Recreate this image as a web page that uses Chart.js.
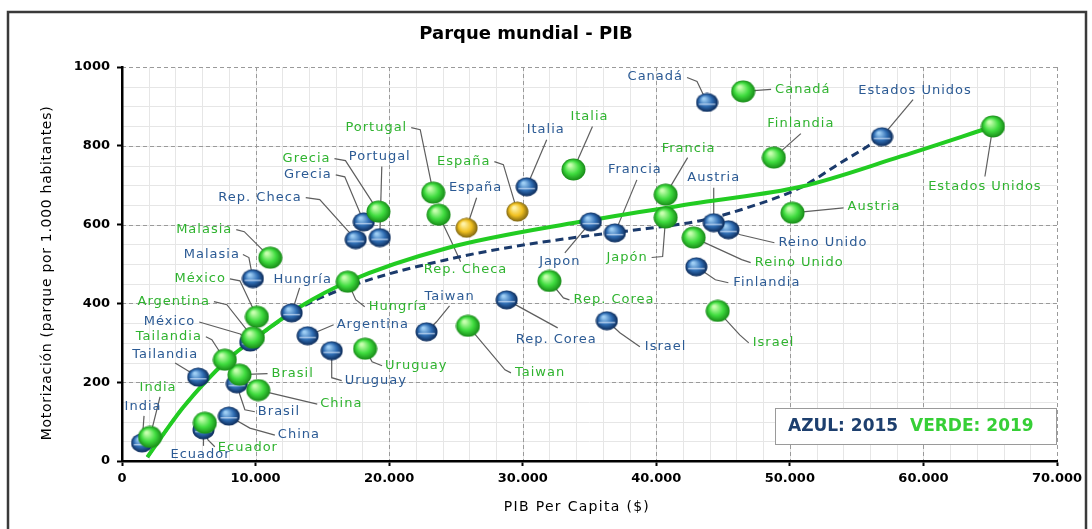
<!DOCTYPE html>
<html>
<head>
<meta charset="utf-8">
<script src="https://cdn.jsdelivr.net/npm/chart.js@4.4.1/dist/chart.umd.min.js"></script>
<style>
  html, body { margin: 0; padding: 0; background: #fff; }
  #wrap { width: 1092px; height: 529px; position: relative; }
</style>
</head>
<body>
<div id="wrap"><canvas id="chart"></canvas></div>
<script>
// country order is shared by both years
const countries = ['India', 'Ecuador', 'China', 'Brasil', 'Tailandia', 'México', 'Argentina', 'Malasia', 'Hungría', 'Uruguay',
  'Taiwan', 'Rep. Corea', 'Israel', 'Finlandia', 'Reino Unido', 'Austria', 'Estados Unidos', 'Canadá', 'Francia', 'Japón',
  'Italia', 'España', 'Portugal', 'Rep. Checa', 'Grecia'];
const names2015 = countries.map(c => c === 'Japón' ? 'Japon' : c);
const names2019 = countries;

const pib2015 = [1500, 6100, 8000, 8600, 5700, 9600, 13900, 9800, 12700, 15700,
  22800, 28800, 36300, 43000, 45400, 44300, 56900, 43800, 36900, 35100,
  30300, 25800, 19300, 17500, 18100];
const motor2015 = [46, 79, 114, 196, 213, 302, 318, 463, 376, 280,
  328, 409, 356, 493, 587, 605, 823, 910, 579, 607,
  696, 592, 567, 562, 607];

const pib2019 = [2100, 6200, 10200, 8800, 7700, 10100, 9800, 11100, 16900, 18200,
  25900, 32000, 44600, 48800, 42800, 50200, 65200, 46500, 40700, 40700,
  33800, 29600, 23300, 23700, 19200];
const motor2019 = [61, 97, 180, 219, 257, 366, 313, 516, 455, 285,
  343, 457, 381, 770, 567, 630, 849, 938, 676, 618,
  740, 633, 681, 625, 633];

// trend curves
const trendPib2019 = [1900, 4600, 7900, 10100, 13300, 16900, 24300, 34300, 43300, 50800, 58300, 65200];
const trendMotor2019 = [10, 137, 257, 315, 391, 455, 540, 607, 656, 696, 773, 849];
const trendPib2015 = [1900, 4600, 7900, 10100, 13300, 17800, 24300, 29300, 34300, 39300, 43300, 47000, 50800, 53800, 55800, 56900];
const trendMotor2015 = [10, 137, 257, 314, 388, 452, 511, 544, 569, 590, 610, 645, 694, 757, 798, 823];

const xTicks = [0, 10000, 20000, 30000, 40000, 50000, 60000, 70000];
const yTicks = [0, 200, 400, 600, 800, 1000];

// label placement: [dx, dy, align, leader points] relative to the ball, in px
const labelPos2015 = [
  [1, -36, 'c', [[2, -27]]],
  [-3, 25, 'c', [[0, 16]]],
  [49, 19, 'l', [[46, 19], [21, 12]]],
  [21, 28, 'l', [[18, 28], [8, 26], [3, 11]]],
  [-33, -22, 'c', [[-23, -14]]],
  [-55, -20, 'r', [[-51, -20], [-10, -8]]],
  [29, -11, 'l', [[26, -11]]],
  [-13, -24, 'r', [[-10, -24], [-4, -21]]],
  [11, -33, 'c', [[8, -25]]],
  [13, 30, 'l', [[10, 30], [0, 27]]],
  [23, -35, 'c', [[23, -26], [10, -10]]],
  [9, 40, 'l', [[51, 28]]],
  [38, 26, 'l', [[33, 26], [13, 12]]],
  [37, 16, 'l', [[32, 16], [19, 13]]],
  [50, 13, 'l', [[46, 13], [12, 5]]],
  [0, -45, 'c', [[0, -35]]],
  [33, -46, 'c', [[31, -37]]],
  [-24, -26, 'r', [[-20, -25], [-10, -21]]],
  [20, -63, 'c', [[22, -53]]],
  [-31, 40, 'c', [[-26, 31]]],
  [19, -57, 'c', [[20, -47]]],
  [9, -40, 'c', [[10, -30]]],
  [0, -81, 'c', [[2, -71]]],
  [-54, -42, 'r', [[-50, -42], [-36, -40]]],
  [-32, -47, 'r', [[-28, -47], [-19, -45]]]
];
const labelPos2019 = [
  [8, -49, 'c', [[10, -40]]],
  [13, 25, 'l', [[10, 24], [3, 17]]],
  [62, 14, 'l', [[59, 14]]],
  [32, -1, 'l', [[28, -1]]],
  [-23, -23, 'r', [[-19, -23], [-13, -20]]],
  [-31, -38, 'r', [[-27, -38], [-17, -36]]],
  [-43, -36, 'r', [[-39, -36], [-26, -33]]],
  [-38, -28, 'r', [[-34, -28], [-26, -26]]],
  [21, 25, 'l', [[17, 25], [8, 18]]],
  [20, 17, 'l', [[17, 17], [7, 13]]],
  [47, 47, 'l', [[43, 47], [37, 44]]],
  [24, 19, 'l', [[20, 19], [14, 17]]],
  [35, 32, 'l', [[31, 32], [22, 24]]],
  [27, -34, 'c', [[27, -24]]],
  [61, 25, 'l', [[57, 25], [48, 22]]],
  [55, -6, 'l', [[51, -5]]],
  [-8, 60, 'c', [[-8, 50]]],
  [32, -2, 'l', [[28, -2]]],
  [23, -46, 'c', [[22, -37]]],
  [-18, 40, 'r', [[-14, 40], [-3, 39]]],
  [16, -53, 'c', [[19, -43]]],
  [-27, -50, 'r', [[-23, -50], [-14, -47]]],
  [-26, -65, 'r', [[-22, -65], [-13, -63]]],
  [27, 55, 'c', [[22, 47], [12, 25]]],
  [-48, -53, 'r', [[-44, -53], [-33, -51]]]
];

const BLUE_TXT = '#2b5a94';
const GREEN_TXT = '#2fb32f';

function makeBall(w, h, light, mid, dark, band) {
  const c = document.createElement('canvas');
  c.width = w; c.height = h;
  const g = c.getContext('2d');
  const r = w / 2 - 0.5;
  g.save();
  g.translate(w / 2, h / 2);
  g.scale(1, h / w);
  const grad = g.createRadialGradient(-r * 0.3, -r * 0.4, r * 0.1, 0, 0, r);
  grad.addColorStop(0, light);
  grad.addColorStop(0.55, mid);
  grad.addColorStop(1, dark);
  g.beginPath();
  g.arc(0, 0, r, 0, Math.PI * 2);
  g.fillStyle = grad;
  g.fill();
  if (band) {
    g.strokeStyle = 'rgba(220,235,255,0.75)';
    g.lineWidth = 1.5;
    g.beginPath();
    g.moveTo(-r * 0.75, 2);
    g.lineTo(r * 0.75, 2);
    g.stroke();
  }
  g.restore();
  return c;
}

const blueBall = makeBall(23, 20, '#9fcff5', '#2f6db3', '#0c2a58', true);
const greenBall = makeBall(25, 23, '#c8ffb0', '#3fdc3f', '#178a17', false);
const goldBall = makeBall(23, 21, '#fff3a8', '#f0c020', '#7d6410', false);

const toPoints = (xs, ys) => xs.map((x, i) => ({ x: x, y: ys[i] }));
const fmt = v => String(v).replace(/\B(?=(\d{3})+(?!\d))/g, '.');

const framePlugin = {
  id: 'frame',
  beforeDraw(chart) {
    const ctx = chart.ctx;
    const xs = chart.scales.x, ys = chart.scales.y;
    const a = chart.chartArea;
    ctx.save();
    ctx.fillStyle = '#fff';
    ctx.fillRect(0, 0, chart.width, chart.height);
    ctx.strokeStyle = '#3a3a3a';
    ctx.lineWidth = 2.5;
    ctx.strokeRect(8, 12, 1078, 540);

    // minor grid
    ctx.strokeStyle = '#e6e6e6';
    ctx.lineWidth = 1;
    for (let v = 2000; v < 70000; v += 2000) {
      const px = Math.round(xs.getPixelForValue(v)) + 0.5;
      ctx.beginPath(); ctx.moveTo(px, a.top); ctx.lineTo(px, a.bottom); ctx.stroke();
    }
    for (let v = 50; v < 1000; v += 50) {
      const py = Math.round(ys.getPixelForValue(v)) + 0.5;
      ctx.beginPath(); ctx.moveTo(a.left, py); ctx.lineTo(a.right, py); ctx.stroke();
    }
    // major grid, dashed
    ctx.strokeStyle = '#9a9a9a';
    ctx.setLineDash([4, 3]);
    xTicks.slice(1).forEach(v => {
      const px = Math.round(xs.getPixelForValue(v)) + 0.5;
      ctx.beginPath(); ctx.moveTo(px, a.top); ctx.lineTo(px, a.bottom); ctx.stroke();
    });
    yTicks.slice(1).forEach(v => {
      const py = Math.round(ys.getPixelForValue(v)) + 0.5;
      ctx.beginPath(); ctx.moveTo(a.left, py); ctx.lineTo(a.right, py); ctx.stroke();
    });
    ctx.restore();
  },
  beforeDatasetsDraw(chart) {
    // leader lines under the balls
    const ctx = chart.ctx;
    ctx.save();
    ctx.strokeStyle = '#5e5e5e';
    ctx.lineWidth = 1.2;
    [[1, labelPos2015], [0, labelPos2019]].forEach(([di, layout]) => {
      const meta = chart.getDatasetMeta(di);
      meta.data.forEach((pt, i) => {
        const pts = layout[i][3];
        ctx.beginPath();
        ctx.moveTo(pt.x + pts[0][0], pt.y + pts[0][1]);
        for (let k = 1; k < pts.length; k++) ctx.lineTo(pt.x + pts[k][0], pt.y + pts[k][1]);
        ctx.lineTo(pt.x, pt.y);
        ctx.stroke();
      });
    });
    ctx.restore();
  },
  afterDatasetsDraw(chart) {
    const ctx = chart.ctx;
    ctx.save();
    ctx.font = '13px "DejaVu Sans"';
    ctx.letterSpacing = '1px';
    ctx.textBaseline = 'middle';
    [[1, labelPos2015, names2015, BLUE_TXT], [0, labelPos2019, names2019, GREEN_TXT]].forEach(([di, layout, names, col]) => {
      const meta = chart.getDatasetMeta(di);
      ctx.fillStyle = col;
      meta.data.forEach((pt, i) => {
        const [dx, dy, al] = layout[i];
        ctx.textAlign = al === 'l' ? 'left' : al === 'r' ? 'right' : 'center';
        ctx.fillText(names[i], pt.x + dx, pt.y + dy);
      });
    });
    ctx.restore();
  },
  afterDraw(chart) {
    const ctx = chart.ctx;
    ctx.save();
    ctx.textBaseline = 'middle';
    ctx.fillStyle = '#000';
    // title
    ctx.textAlign = 'center';
    ctx.font = 'bold 18px "DejaVu Sans"';
    ctx.fillText('Parque mundial - PIB', 526, 34);
    // axis titles
    ctx.font = '14px "DejaVu Sans"';
    ctx.letterSpacing = '1.3px';
    ctx.fillText('PIB Per Capita ($)', 577, 507);
    ctx.letterSpacing = '0.7px';
    ctx.translate(47, 273);
    ctx.rotate(-Math.PI / 2);
    ctx.fillText('Motorización (parque por 1.000 habitantes)', 0, 0);
    ctx.setTransform(1, 0, 0, 1, 0, 0);
    // year key box
    ctx.letterSpacing = '0px';
    ctx.fillStyle = '#fff';
    ctx.fillRect(775, 408, 281, 36);
    ctx.strokeStyle = '#9a9a9a';
    ctx.lineWidth = 1;
    ctx.strokeRect(775.5, 408.5, 281, 36);
    ctx.textAlign = 'left';
    ctx.font = 'bold 17px "DejaVu Sans"';
    ctx.fillStyle = '#1d3f6e';
    ctx.fillText('AZUL: 2015', 788, 427);
    ctx.fillStyle = '#36cf36';
    ctx.fillText('VERDE: 2019', 910, 427);
    ctx.restore();
  }
};

const ctx = document.getElementById('chart').getContext('2d');
new Chart(ctx, {
  type: 'scatter',
  data: {
    datasets: [
      {
        label: '2019',
        data: toPoints(pib2019, motor2019),
        pointStyle: countries.map(c => c === 'España' ? goldBall : greenBall),
        pointRadius: 12,
        order: 1
      },
      {
        label: '2015',
        data: toPoints(pib2015, motor2015),
        pointStyle: countries.map(c => c === 'España' ? goldBall : blueBall),
        pointRadius: 11,
        order: 2
      },
      {
        type: 'line',
        label: 'Tendencia 2019',
        data: toPoints(trendPib2019, trendMotor2019),
        borderColor: '#22cc22',
        borderWidth: 4,
        pointRadius: 0,
        fill: false,
        cubicInterpolationMode: 'monotone',
        order: 3
      },
      {
        type: 'line',
        label: 'Tendencia 2015',
        data: toPoints(trendPib2015, trendMotor2015),
        borderColor: '#1b3a6b',
        borderWidth: 3,
        borderDash: [8, 5],
        pointRadius: 0,
        fill: false,
        cubicInterpolationMode: 'monotone',
        order: 4
      }
    ]
  },
  options: {
    responsive: true,
    maintainAspectRatio: false,
    animation: false,
    events: [],
    layout: { padding: { top: 67, right: 35, left: 0, bottom: 0 } },
    plugins: {
      legend: { display: false },
      tooltip: { enabled: false },
      title: { display: false }
    },
    scales: {
      x: {
        type: 'linear',
        min: 0,
        max: 70000,
        afterBuildTicks: s => { s.ticks = xTicks.map(v => ({ value: v })); },
        afterFit: s => { s.height = 68; },
        grid: { drawOnChartArea: false, drawTicks: true, tickLength: 5, tickColor: '#000', tickWidth: 2 },
        border: { color: '#000', width: 2.5 },
        ticks: {
          color: '#000',
          padding: 5,
          maxRotation: 0,
          font: { family: 'DejaVu Sans', size: 13, weight: 'bold' },
          callback: v => fmt(v)
        }
      },
      y: {
        type: 'linear',
        min: 0,
        max: 1000,
        afterBuildTicks: s => { s.ticks = yTicks.map(v => ({ value: v })); },
        afterFit: s => { s.width = 122; },
        grid: { drawOnChartArea: false, drawTicks: true, tickLength: 5, tickColor: '#000', tickWidth: 2 },
        border: { color: '#000', width: 2.5 },
        ticks: {
          color: '#000',
          padding: 7,
          font: { family: 'DejaVu Sans', size: 13, weight: 'bold' },
          callback: v => String(v)
        }
      }
    }
  },
  plugins: [framePlugin]
});
</script>
</body>
</html>
